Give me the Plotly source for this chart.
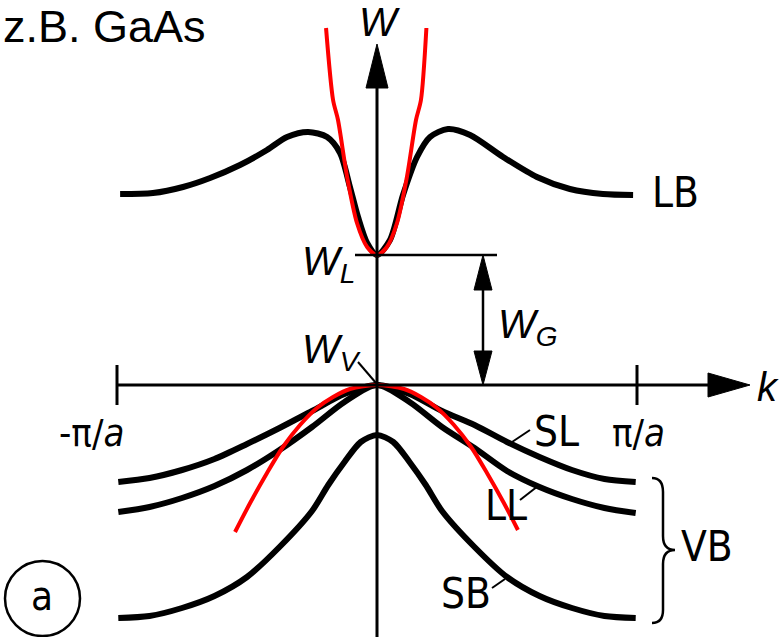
import plotly.graph_objects as go

# ---- band data: k in units of pi/a, W in arbitrary energy units (W_V = 0) ----
W_V = 0.0
W_L = 1.30

k_lb = [-0.988, -0.862, -0.746, -0.642, -0.527, -0.423, -0.346, -0.265, -0.192,
        -0.142, -0.104, -0.073, -0.038, 0.0, 0.05, 0.10, 0.154, 0.204, 0.273,
        0.358, 0.485, 0.615, 0.742, 0.869, 0.985]
W_lb = [1.91, 1.92, 1.98, 2.07, 2.20, 2.35, 2.48, 2.53, 2.48,
        2.32, 1.98, 1.68, 1.42, 1.30, 1.45, 1.90, 2.28, 2.48, 2.56,
        2.50, 2.28, 2.08, 1.96, 1.91, 1.90]

k_vb = [-0.995, -0.875, -0.75, -0.625, -0.5, -0.375, -0.25, -0.125, 0.0,
        0.125, 0.25, 0.375, 0.5, 0.625, 0.75, 0.875, 0.995]
W_sl = [-0.97, -0.93, -0.85, -0.74, -0.59, -0.43, -0.26, -0.09, 0.0,
        -0.09, -0.26, -0.40, -0.57, -0.72, -0.85, -0.94, -0.97]
W_ll = [-1.27, -1.22, -1.13, -1.01, -0.85, -0.65, -0.42, -0.17, 0.0,
        -0.17, -0.42, -0.63, -0.86, -1.02, -1.14, -1.23, -1.28]

k_sb = [-0.995, -0.875, -0.75, -0.625, -0.5, -0.375, -0.25, -0.1875, -0.125,
        -0.0625, 0.0, 0.0625, 0.125, 0.1875, 0.25, 0.375, 0.5, 0.625, 0.75,
        0.875, 0.995]
W_sb = [-2.33, -2.31, -2.23, -2.11, -1.92, -1.62, -1.26, -1.00, -0.77,
        -0.57, -0.50, -0.57, -0.77, -1.00, -1.26, -1.62, -1.92, -2.11, -2.23,
        -2.31, -2.33]

# parabolic (effective mass) approximations
k_pc = [-0.196, -0.169, -0.15, -0.115, -0.077, -0.038, 0.0, 0.038, 0.077,
        0.115, 0.15, 0.169, 0.19]
W_pc = [3.57, 2.85, 2.65, 2.08, 1.62, 1.38, 1.30, 1.38, 1.62,
        2.08, 2.65, 2.85, 3.57]

k_pv = [-0.546, -0.488, -0.423, -0.362, -0.296, -0.231, -0.169, -0.104, 0.0,
        0.104, 0.169, 0.231, 0.296, 0.362, 0.423, 0.488, 0.542]
W_pv = [-1.47, -1.18, -0.88, -0.62, -0.40, -0.23, -0.12, -0.04, 0.0,
        -0.04, -0.12, -0.23, -0.40, -0.62, -0.88, -1.18, -1.45]

tick_k = [-1.0, 1.0]
tick_text = ["-\u03c0/<i>a</i>", "\u03c0/<i>a</i>"]

# ---- geometry helpers: canvas pixels -> data units ----
W_PX, H_PX = 779, 637
X0_PX, Y0_PX = 377, 385      # origin on canvas
SX, SY = 260.0, 100.0        # pixels per unit


def kx(px):
    return (px - X0_PX) / SX


def wy(py):
    return (Y0_PX - py) / SY


def dk(px):
    return px / SX


def dw(py):
    return py / SY


fig = go.Figure()

band_line = dict(color="black", width=6, shape="spline", smoothing=0.8)
for kk, ww in [(k_lb, W_lb), (k_vb, W_sl), (k_vb, W_ll), (k_sb, W_sb)]:
    fig.add_trace(go.Scatter(x=kk, y=ww, mode="lines", line=band_line,
                             hoverinfo="skip"))

red_line = dict(color="#ff0000", width=4, shape="spline", smoothing=0.8)
for kk, ww in [(k_pc, W_pc), (k_pv, W_pv)]:
    fig.add_trace(go.Scatter(x=kk, y=ww, mode="lines", line=red_line,
                             hoverinfo="skip"))

shapes = []
blk = dict(color="black", width=3)

# k axis with arrow
shapes.append(dict(type="line", x0=tick_k[0], x1=kx(712), y0=W_V, y1=W_V, line=blk))
shapes.append(dict(type="path",
                   path=f"M {kx(708)},{W_V + dw(12)} L {kx(750)},{W_V} L {kx(708)},{W_V - dw(12)} Z",
                   fillcolor="black", line=dict(color="black", width=1)))
# W axis with arrow
shapes.append(dict(type="line", x0=0, x1=0, y0=wy(640), y1=wy(85), line=blk))
shapes.append(dict(type="path",
                   path=f"M {-dk(11)},{wy(88)} L 0,{wy(44)} L {dk(11)},{wy(88)} Z",
                   fillcolor="black", line=dict(color="black", width=1)))
# zone boundary ticks
for t in tick_k:
    shapes.append(dict(type="line", x0=t, x1=t, y0=W_V + dw(20), y1=W_V - dw(20), line=blk))

# conduction band minimum marker and gap arrow
shapes.append(dict(type="line", x0=kx(355), x1=kx(497), y0=W_L, y1=W_L,
                   line=dict(color="black", width=2.5)))
xg = kx(483)
shapes.append(dict(type="line", x0=xg, x1=xg, y0=W_V + dw(30), y1=W_L - dw(30),
                   line=dict(color="black", width=2.5)))
shapes.append(dict(type="path",
                   path=f"M {xg - dk(9)},{W_L - dw(35)} L {xg},{W_L} L {xg + dk(9)},{W_L - dw(35)} Z",
                   fillcolor="black", line=dict(color="black", width=1)))
shapes.append(dict(type="path",
                   path=f"M {xg - dk(9)},{W_V + dw(34)} L {xg},{W_V} L {xg + dk(9)},{W_V + dw(34)} Z",
                   fillcolor="black", line=dict(color="black", width=1)))

# leader lines for labels
thin = dict(color="black", width=2)
for (ax, ay, bx, by) in [(358, 362, 376, 383), (512, 442, 530, 430),
                         (520, 500, 538, 486), (492, 588, 505, 579)]:
    shapes.append(dict(type="line", x0=kx(ax), y0=wy(ay), x1=kx(bx), y1=wy(by), line=thin))

# brace grouping the valence bands
brace = (f"M {kx(652)},{wy(478)} Q {kx(663)},{wy(478)} {kx(663)},{wy(492)} "
         f"L {kx(663)},{wy(536)} Q {kx(663)},{wy(550)} {kx(675)},{wy(550)} "
         f"Q {kx(663)},{wy(550)} {kx(663)},{wy(564)} "
         f"L {kx(663)},{wy(610)} Q {kx(663)},{wy(623)} {kx(652)},{wy(623)}")
shapes.append(dict(type="path", path=brace, line=dict(color="black", width=2.5)))

# panel marker circle
shapes.append(dict(type="circle", x0=kx(5), x1=kx(80), y0=wy(636), y1=wy(561),
                   line=dict(color="black", width=2.5)))

narrow = "Liberation Sans Narrow, DejaVu Sans Condensed, Arial, sans-serif"
sans = "Liberation Sans, Arial, sans-serif"

annotations = []


def label(text, px, py, size=40, family=narrow, xanchor="center", style="normal"):
    annotations.append(dict(text=text, x=kx(px), y=wy(py), showarrow=False,
                            xanchor=xanchor, yanchor="middle",
                            font=dict(family=family, size=size, color="black",
                                      style=style)))


label("z.B. GaAs", 1, 26, size=45, family=sans, xanchor="left")
label("W", 379, 22, size=40, family=sans, style="italic")
label("k", 768, 387, size=40, family=sans, style="italic")
label(tick_text[0], 91, 433, size=38, family=narrow)
label(tick_text[1], 638, 433, size=38, family=narrow)
label("LB", 675, 192, size=42)
label("SL", 556, 431, size=42)
label("LL", 506, 505, size=42)
label("SB", 466, 593, size=42)
label("VB", 707, 546, size=42)
label("W<sub>L</sub>", 328, 264, size=40, family=sans, style="italic")
label("W<sub>V</sub>", 331, 352, size=40, family=sans, style="italic")
label("W<sub>G</sub>", 528, 327, size=40, family=sans, style="italic")
label("a", 42, 596, size=40)

fig.update_layout(
    width=W_PX, height=H_PX,
    margin=dict(l=0, r=0, t=0, b=0),
    paper_bgcolor="white", plot_bgcolor="white",
    showlegend=False,
    xaxis=dict(range=[kx(0), kx(W_PX)], visible=False, fixedrange=True),
    yaxis=dict(range=[wy(H_PX), wy(0)], visible=False, fixedrange=True),
    shapes=shapes,
    annotations=annotations,
)

fig.write_html("out.html")
